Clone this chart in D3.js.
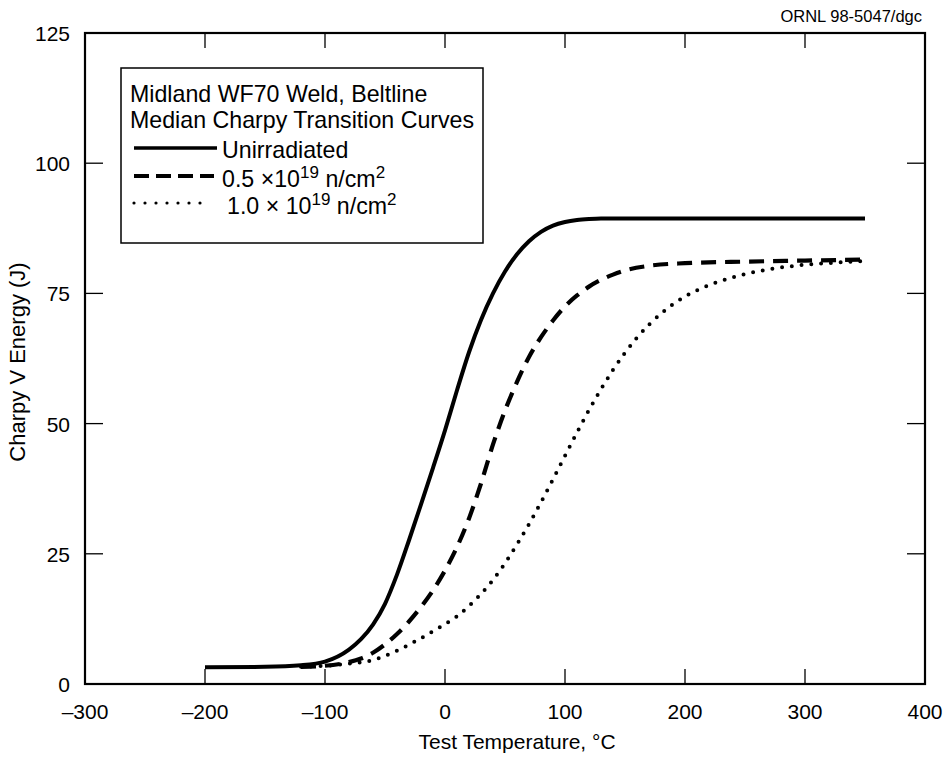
<!DOCTYPE html>
<html>
<head>
<meta charset="utf-8">
<script src="https://cdn.jsdelivr.net/npm/d3@7"></script>
<style>
  body { margin: 0; background: #fff; }
  svg text { font-family: "Liberation Sans", Arial, Helvetica, sans-serif; fill: #000; }
</style>
</head>
<body>
<div id="chart"></div>
<script>
// Values (temperature in °C, energy in J).
const unirrTemp = [-200, -150, -120, -100, -80, -70, -60, -50, -40, -30, -20, -10, 0, 10, 20, 30, 40, 50, 60, 70, 80, 90, 100, 110, 120, 130, 350];
const unirrEnergy = [3.2, 3.3, 3.6, 4.3, 6.6, 8.6, 11.4, 15.4, 21.0, 27.6, 34.5, 41.5, 48.7, 56.4, 63.7, 69.9, 75.0, 79.2, 82.5, 85.0, 86.8, 88.0, 88.7, 89.1, 89.3, 89.4, 89.4];

const low05Temp = [-120, -100, -80, -70, -60, -50, -40, -30, -20, -10, 0, 10, 20, 30, 40, 50, 60, 70, 80, 90, 100, 110, 120, 130, 140, 150, 170, 200, 250, 300, 350];
const low05Energy = [3.3, 3.5, 4.2, 4.9, 6.0, 7.6, 9.6, 12.0, 14.8, 18.0, 21.8, 26.3, 31.8, 38.5, 46.0, 52.5, 58.0, 62.8, 66.6, 69.8, 72.5, 74.6, 76.3, 77.6, 78.6, 79.4, 80.3, 80.8, 81.1, 81.3, 81.5];

const high10Temp = [-120, -100, -80, -60, -40, -20, 0, 10, 20, 30, 40, 50, 60, 70, 80, 90, 100, 110, 120, 130, 140, 150, 160, 170, 180, 190, 200, 225, 250, 275, 300, 325, 350];
const high10Energy = [3.3, 3.5, 3.9, 4.6, 6.4, 8.8, 11.5, 13.0, 15.0, 17.3, 20.0, 23.2, 26.8, 30.7, 34.9, 39.3, 43.8, 48.3, 52.6, 56.6, 60.3, 63.6, 66.5, 69.0, 71.1, 72.9, 74.4, 77.0, 78.7, 79.8, 80.5, 80.9, 81.2];

const xTicks = [-300, -200, -100, 0, 100, 200, 300, 400];
const yTicks = [0, 25, 50, 75, 100, 125];

const width = 948, height = 757;
const plotLeft = 85, plotRight = 925, plotTop = 33, plotBottom = 684;
const tickLen = 15;

const svg = d3.select('#chart')
    .append('svg')
    .attr('width', width)
    .attr('height', height);

const x = d3.scaleLinear().domain([-300, 400]).range([plotLeft, plotRight]);
const y = d3.scaleLinear().domain([0, 125]).range([plotBottom, plotTop]);

// Inward ticks on all four sides (no tick at the frame corners).
const innerX = xTicks.filter((t) => t > -300 && t < 400);
const innerY = yTicks.filter((t) => t > 0 && t < 125);

const ticks = svg.append('g').attr('stroke', '#000').attr('stroke-width', 1.3);
innerX.forEach((t) => {
    ticks.append('line').attr('x1', x(t)).attr('x2', x(t)).attr('y1', plotBottom).attr('y2', plotBottom - tickLen);
    ticks.append('line').attr('x1', x(t)).attr('x2', x(t)).attr('y1', plotTop).attr('y2', plotTop + tickLen);
});
innerY.forEach((t) => {
    ticks.append('line').attr('x1', plotLeft).attr('x2', plotLeft + tickLen + 3).attr('y1', y(t)).attr('y2', y(t));
    ticks.append('line').attr('x1', plotRight).attr('x2', plotRight - tickLen - 3).attr('y1', y(t)).attr('y2', y(t));
});

// Frame
svg.append('rect')
    .attr('x', plotLeft).attr('y', plotTop)
    .attr('width', plotRight - plotLeft).attr('height', plotBottom - plotTop)
    .attr('fill', 'none').attr('stroke', '#000').attr('stroke-width', 2.2);

// Tick labels
svg.append('g').selectAll('text')
    .data(xTicks)
    .join('text')
    .attr('x', (d) => x(d))
    .attr('y', plotBottom + 35)
    .attr('text-anchor', 'middle')
    .attr('font-size', 21)
    .text((d) => (d < 0 ? '\u2013' + Math.abs(d) : d));

svg.append('g').selectAll('text')
    .data(yTicks)
    .join('text')
    .attr('x', plotLeft - 15)
    .attr('y', (d) => y(d) + 8)
    .attr('text-anchor', 'end')
    .attr('font-size', 21)
    .text((d) => d);

// Axis titles
svg.append('text')
    .attr('x', 517)
    .attr('y', 749)
    .attr('text-anchor', 'middle')
    .attr('font-size', 21)
    .text('Test Temperature, \u00B0C');

svg.append('text')
    .attr('transform', `translate(25,362) rotate(-90)`)
    .attr('text-anchor', 'middle')
    .attr('font-size', 22)
    .text('Charpy V Energy (J)');

svg.append('text')
    .attr('x', 922)
    .attr('y', 22)
    .attr('text-anchor', 'end')
    .attr('font-size', 16.5)
    .text('ORNL 98-5047/dgc');

// Curves
const line = d3.line()
    .x((d) => x(d[0]))
    .y((d) => y(d[1]))
    .curve(d3.curveMonotoneX);

const series = [
    { temp: unirrTemp, energy: unirrEnergy, dash: null, width: 4, cap: 'butt' },
    { temp: low05Temp, energy: low05Energy, dash: '15 9', width: 4.2, cap: 'butt' },
    { temp: high10Temp, energy: high10Energy, dash: '0 9.8', width: 4, cap: 'round' }
];

const curves = svg.append('g').attr('fill', 'none').attr('stroke', '#000');
series.forEach((s) => {
    curves.append('path')
        .datum(d3.zip(s.temp, s.energy))
        .attr('d', line)
        .attr('stroke-width', s.width)
        .attr('stroke-linecap', s.cap)
        .attr('stroke-dasharray', s.dash);
});

// Legend
const legend = svg.append('g');
legend.append('rect')
    .attr('x', 121).attr('y', 68)
    .attr('width', 362).attr('height', 175)
    .attr('fill', '#fff').attr('stroke', '#000').attr('stroke-width', 1.5);

legend.append('text').attr('x', 130).attr('y', 102).attr('font-size', 23.2)
    .text('Midland WF70 Weld, Beltline');
legend.append('text').attr('x', 130).attr('y', 128).attr('font-size', 23.2)
    .text('Median Charpy Transition Curves');

const legendRows = [
    { y: 148, x2: 217, tx: 222, ty: 158, dash: null, width: 3.5, cap: 'butt', parts: [['Unirradiated', 0]] },
    { y: 176, x2: 214, tx: 222, ty: 187, dash: '15 7', width: 3.8, cap: 'butt', parts: [['0.5 \u00D710', 0], ['19', 1], [' n/cm', 0], ['2', 1]] },
    { y: 203, x2: 211, tx: 227, ty: 214, dash: '0 11', width: 3.2, cap: 'round', parts: [['1.0 \u00D7 10', 0], ['19', 1], [' n/cm', 0], ['2', 1]] }
];

legendRows.forEach((r) => {
    legend.append('line')
        .attr('x1', 134).attr('x2', r.x2)
        .attr('y1', r.y).attr('y2', r.y)
        .attr('stroke', '#000')
        .attr('stroke-width', r.width)
        .attr('stroke-linecap', r.cap)
        .attr('stroke-dasharray', r.dash);
    const t = legend.append('text').attr('x', r.tx).attr('y', r.ty).attr('font-size', 23.2);
    let raised = 0;
    r.parts.forEach(([str, sup]) => {
        t.append('tspan')
            .attr('dy', sup ? -9 : (raised ? 9 : 0))
            .attr('font-size', sup ? 17 : 23.2)
            .text(str);
        raised = sup;
    });
});
</script>
</body>
</html>
